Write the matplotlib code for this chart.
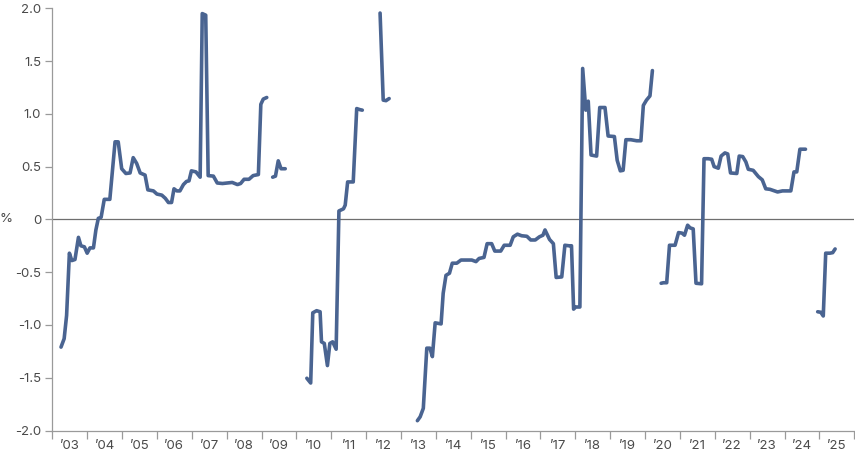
import numpy as np
import matplotlib
matplotlib.use("Agg")
import matplotlib.pyplot as plt

nan = np.nan

# Decimal-year positions and values (%); NaN marks a gap in the series
years = [
    2003.25, 2003.34, 2003.41, 2003.49, 2003.56, 2003.65, 2003.75, 2003.82, 2003.92, 2004.00,
    2004.08, 2004.18, 2004.25, 2004.32, 2004.40, 2004.49, 2004.65, 2004.80, 2004.89, 2004.99,
    2005.11, 2005.23, 2005.32, 2005.42, 2005.52, 2005.66, 2005.74, 2005.90, 2006.00, 2006.14,
    2006.24, 2006.33, 2006.42, 2006.49, 2006.57, 2006.66, 2006.76, 2006.85, 2006.92, 2006.99,
    2007.12, 2007.24, 2007.30, 2007.40, 2007.47, 2007.62, 2007.73, 2007.88, 2008.02, 2008.16,
    2008.31, 2008.40, 2008.50, 2008.64, 2008.76, 2008.91, 2008.98, 2009.05, 2009.15,
    2009.24,
    2009.32, 2009.40, 2009.48, 2009.56, 2009.68,
    2010.00,
    2010.30, 2010.41, 2010.47, 2010.58, 2010.68, 2010.72, 2010.80, 2010.89, 2010.96, 2011.04,
    2011.14, 2011.22, 2011.35, 2011.40, 2011.47, 2011.63, 2011.73, 2011.82, 2011.89,
    2012.10,
    2012.40, 2012.49, 2012.57, 2012.66,
    2013.00,
    2013.47, 2013.55, 2013.64, 2013.74, 2013.83, 2013.90, 2013.98, 2014.07, 2014.15, 2014.21,
    2014.29, 2014.39, 2014.47, 2014.60, 2014.72, 2014.88, 2015.03, 2015.15, 2015.24, 2015.38,
    2015.47, 2015.60, 2015.69, 2015.86, 2015.96, 2016.13, 2016.22, 2016.34, 2016.46, 2016.61,
    2016.72, 2016.85, 2016.97, 2017.07, 2017.13, 2017.26, 2017.37, 2017.45, 2017.61, 2017.70,
    2017.82, 2017.89, 2017.95, 2018.01, 2018.13, 2018.21, 2018.30, 2018.37, 2018.45, 2018.61,
    2018.70, 2018.85, 2018.94, 2019.12, 2019.20, 2019.29, 2019.37, 2019.45, 2019.59, 2019.76,
    2019.88, 2019.95, 2020.04, 2020.14, 2020.21,
    2020.35,
    2020.46, 2020.53, 2020.62, 2020.70, 2020.86, 2020.96, 2021.06, 2021.13, 2021.22, 2021.29,
    2021.38, 2021.46, 2021.62, 2021.69, 2021.81, 2021.91, 2021.98, 2022.10, 2022.18, 2022.29,
    2022.37, 2022.45, 2022.63, 2022.70, 2022.80, 2022.89, 2022.96, 2023.10, 2023.25, 2023.36,
    2023.46, 2023.58, 2023.80, 2023.94, 2024.18, 2024.27, 2024.35, 2024.44, 2024.60,
    2024.80,
    2024.95, 2025.04, 2025.11, 2025.18, 2025.30, 2025.38, 2025.45,
]
values = [
    -1.21, -1.13, -0.91, -0.32, -0.39, -0.38, -0.17, -0.25, -0.26, -0.32,
    -0.27, -0.27, -0.10, 0.01, 0.02, 0.19, 0.19, 0.735, 0.735, 0.48,
    0.435, 0.44, 0.585, 0.53, 0.44, 0.42, 0.28, 0.27, 0.24, 0.23,
    0.20, 0.16, 0.16, 0.29, 0.27, 0.27, 0.33, 0.36, 0.365, 0.46,
    0.45, 0.40, 1.95, 1.935, 0.415, 0.41, 0.345, 0.34, 0.345, 0.35,
    0.33, 0.34, 0.38, 0.38, 0.415, 0.425, 1.09, 1.14, 1.155,
    nan,
    0.40, 0.41, 0.555, 0.48, 0.48,
    nan,
    -1.505, -1.55, -0.885, -0.865, -0.875, -1.16, -1.175, -1.385, -1.175, -1.16,
    -1.23, 0.08, 0.10, 0.135, 0.355, 0.355, 1.05, 1.04, 1.035,
    nan,
    1.955, 1.13, 1.125, 1.145,
    nan,
    -1.907, -1.87, -1.79, -1.22, -1.22, -1.30, -0.98, -0.985, -0.99, -0.70,
    -0.53, -0.51, -0.415, -0.415, -0.385, -0.385, -0.385, -0.40, -0.37, -0.36,
    -0.23, -0.23, -0.30, -0.30, -0.245, -0.245, -0.165, -0.14, -0.155, -0.16,
    -0.195, -0.195, -0.165, -0.15, -0.10, -0.19, -0.23, -0.55, -0.545, -0.245,
    -0.25, -0.25, -0.85, -0.83, -0.83, 1.43, 1.035, 1.12, 0.61, 0.60,
    1.06, 1.06, 0.79, 0.785, 0.56, 0.46, 0.465, 0.755, 0.755, 0.745,
    0.745, 1.08, 1.13, 1.17, 1.41,
    nan,
    -0.605, -0.60, -0.60, -0.245, -0.245, -0.125, -0.13, -0.15, -0.055, -0.08,
    -0.09, -0.605, -0.61, 0.575, 0.575, 0.57, 0.50, 0.485, 0.60, 0.63,
    0.62, 0.44, 0.435, 0.60, 0.595, 0.545, 0.475, 0.465, 0.405, 0.375,
    0.29, 0.285, 0.26, 0.27, 0.27, 0.45, 0.45, 0.665, 0.665,
    nan,
    -0.875, -0.88, -0.915, -0.32, -0.32, -0.315, -0.28,
]

year_ticks = list(range(2003, 2027))
year_labels = ["\u201903", "\u201904", "\u201905", "\u201906", "\u201907", "\u201908",
               "\u201909", "\u201910", "\u201911", "\u201912", "\u201913", "\u201914",
               "\u201915", "\u201916", "\u201917", "\u201918", "\u201919", "\u201920",
               "\u201921", "\u201922", "\u201923", "\u201924", "\u201925"]
y_ticks = [2.0, 1.5, 1.0, 0.5, 0.0, -0.5, -1.0, -1.5, -2.0]
y_labels = ["2.0", "1.5", "1.0", "0.5", "0", "-0.5", "-1.0", "-1.5", "-2.0"]

plt.rcParams['font.family'] = ['Inter', 'DejaVu Sans']

W, H = 855, 461
fig = plt.figure(figsize=(W / 100, H / 100), dpi=100)
ax = fig.add_axes([52.3 / W, (H - 430.5) / H, (854.3 - 52.3) / W, (430.5 - 8.3) / H])

line_color = '#4a6491'
spine_color = '#9a9a9a'
text_color = '#4a4a4a'
fs = 9.5

ax.axhline(0, color='#6e6e6e', lw=0.9, zorder=1)
ax.plot(years, values, color=line_color, lw=2.6, solid_joinstyle='round',
        solid_capstyle='round', zorder=3)

ax.set_xlim(2003, 2026)
ax.set_ylim(-2.0, 2.0)

ax.set_xticks(year_ticks)
ax.set_xticklabels([])
ax.set_xticks([y + 0.5 for y in year_ticks[:-1]], minor=True)
ax.set_xticklabels(year_labels, minor=True)
ax.tick_params(axis='x', which='major', length=6, width=0.9, color=spine_color)
ax.tick_params(axis='x', which='minor', length=0, pad=7, labelsize=fs, labelcolor=text_color)

ax.set_yticks(y_ticks)
ax.set_yticklabels(y_labels)
ax.tick_params(axis='y', length=5, width=0.9, color=spine_color, pad=3,
               labelsize=fs, labelcolor=text_color)

for s in ['top', 'right']:
    ax.spines[s].set_visible(False)
for s in ['left', 'bottom']:
    ax.spines[s].set_color(spine_color)
    ax.spines[s].set_linewidth(0.9)

fig.text(6 / W, 1 - 219.3 / H, '%', ha='center', va='center', fontsize=fs, color=text_color)

fig.savefig('out.png', dpi=100)
